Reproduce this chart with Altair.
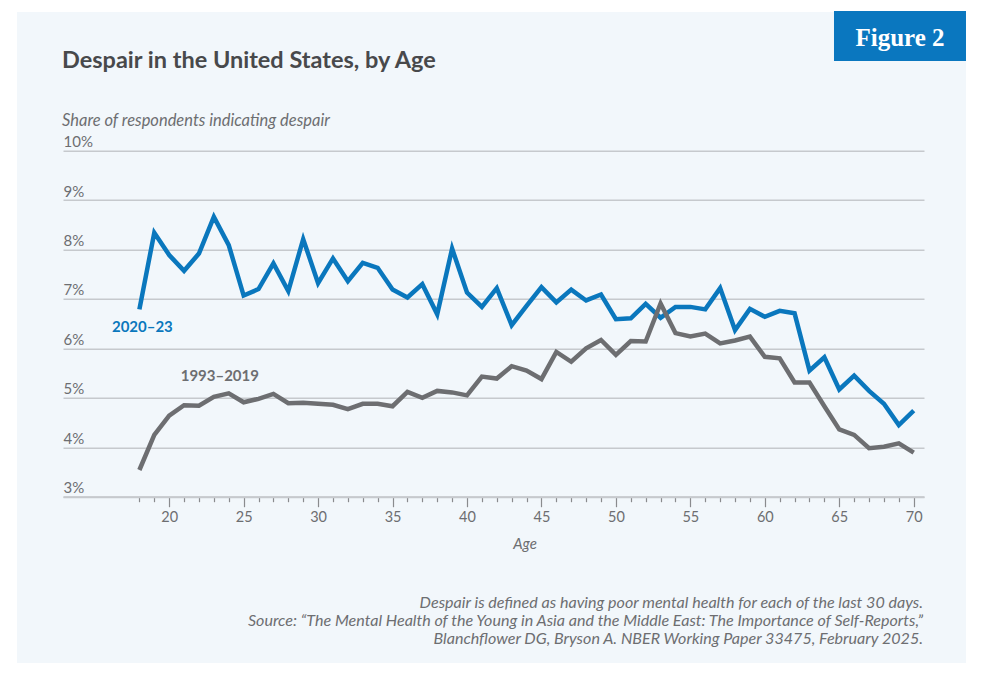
import altair as alt
import pandas as pd

ages = list(range(18, 71))
despair_2020_23 = [6.79, 8.34, 7.89, 7.57, 7.92, 8.66, 8.09, 7.07, 7.20, 7.72,
                   7.16, 8.21, 7.32, 7.82, 7.36, 7.73, 7.63, 7.19, 7.03, 7.30,
                   6.69, 8.02, 7.13, 6.84, 7.22, 6.47, 6.86, 7.24, 6.93, 7.19,
                   6.97, 7.09, 6.59, 6.61, 6.90, 6.62, 6.84, 6.84, 6.79, 7.22,
                   6.37, 6.80, 6.64, 6.76, 6.71, 5.55, 5.82, 5.17, 5.45, 5.14,
                   4.88, 4.45, 4.74]
despair_1993_2019 = [3.54, 4.25, 4.64, 4.85, 4.84, 5.02, 5.09, 4.91, 4.98, 5.08,
                     4.89, 4.90, 4.88, 4.86, 4.77, 4.88, 4.88, 4.83, 5.12, 5.00,
                     5.14, 5.11, 5.05, 5.43, 5.39, 5.64, 5.55, 5.38, 5.93, 5.73,
                     6.00, 6.17, 5.87, 6.15, 6.14, 6.91, 6.31, 6.24, 6.30, 6.10,
                     6.16, 6.24, 5.83, 5.80, 5.31, 5.31, 4.83, 4.36, 4.25, 3.98,
                     4.01, 4.08, 3.89]
age_ticks = list(range(18, 71))
pct_ticks = [3, 4, 5, 6, 7, 8, 9, 10]

series_labels = ["2020\u201323", "1993\u20132019"]
label_age = [18.2, 23.4]
label_value = [6.43, 5.45]

title_text = "Despair in the United States, by Age"
subtitle_text = "Share of respondents indicating despair"
badge_text = "Figure 2"
x_title = "Age"
note_lines = [
    "Despair is defined as having poor mental health for each of the last 30 days.",
    "Source: \u201cThe Mental Health of the Young in Asia and the Middle East: The Importance of Self-Reports,\u201d",
    "Blanchflower DG, Bryson A. NBER Working Paper 33475, February 2025.",
]

BLUE = "#0a77bd"
GRAY = "#6d6e71"
TEXT = "#6d6e71"
PANEL = "#f2f7fb"
FONT = "Lato"

blue_df = pd.DataFrame({"age": ages, "value": despair_2020_23})
gray_df = pd.DataFrame({"age": ages, "value": despair_1993_2019})
lab_df = pd.DataFrame({"label": series_labels, "age": label_age, "value": label_value,
                       "c": [BLUE, GRAY]})
one = pd.DataFrame({"k": [0]})

x_enc = alt.X(
    "age:Q",
    scale=alt.Scale(domain=[12.87, 70.69], nice=False, zero=False),
    axis=alt.Axis(
        values=age_ticks,
        title=None,
        grid=False,
        domain=True,
        domainColor="#c6c9cd",
        domainWidth=2,
        ticks=True,
        tickColor="#8a8b8e",
        tickWidth=1.2,
        tickSize={"condition": {"test": "datum.value % 5 === 0", "value": 10}, "value": 5},
        labelExpr="datum.value % 5 === 0 ? datum.label : ''",
        labelFont=FONT,
        labelFontSize=14.5,
        labelColor=TEXT,
        labelPadding=4,
    ),
)
y_enc = alt.Y(
    "value:Q",
    scale=alt.Scale(domain=[3, 10], nice=False, zero=False),
    axis=alt.Axis(
        values=pct_ticks,
        title=None,
        grid=True,
        gridColor="#c6c9cd",
        gridWidth=1.5,
        domain=False,
        ticks=False,
        labelExpr="datum.value + '%'",
        labelAlign="left",
        labelBaseline="alphabetic",
        labelOffset=-4,
        labelPadding=0,
        labelFont=FONT,
        labelFontSize=15,
        labelColor=TEXT,
    ),
)

strip_left = alt.Chart(one).mark_rect(color="white").encode(
    x=alt.value(-60), x2=alt.value(-46), y=alt.value(-150), y2=alt.value(700)
)
strip_top = alt.Chart(one).mark_rect(color="white").encode(
    x=alt.value(-60), x2=alt.value(910), y=alt.value(-150), y2=alt.value(-138.7)
)
badge = alt.Chart(one).mark_rect(color="#0a77bf").encode(
    x=alt.value(771), x2=alt.value(903), y=alt.value(-139.7), y2=alt.value(-89.7)
)
badge_t = alt.Chart(one).mark_text(
    font="Liberation Serif", fontWeight="bold", fontSize=25, color="white",
    align="center", baseline="alphabetic"
).encode(x=alt.value(837), y=alt.value(-105), text=alt.value(badge_text))
title_t = alt.Chart(one).mark_text(
    font=FONT, fontWeight="bold", fontSize=23.5, color="#48494b",
    align="left", baseline="alphabetic"
).encode(x=alt.value(-1), y=alt.value(-82.4), text=alt.value(title_text))
sub_t = alt.Chart(one).mark_text(
    font=FONT, fontStyle="italic", fontSize=16.5, color=TEXT,
    align="left", baseline="alphabetic"
).encode(x=alt.value(-1), y=alt.value(-24.7), text=alt.value(subtitle_text))
age_t = alt.Chart(one).mark_text(
    font=FONT, fontStyle="italic", fontSize=15, color=TEXT,
    align="center", baseline="alphabetic"
).encode(x=alt.value(462), y=alt.value(398), text=alt.value(x_title))
note_t = alt.Chart(one).mark_text(
    font=FONT, fontStyle="italic", fontSize=16.1, color=TEXT,
    align="right", baseline="alphabetic", lineHeight=18
).encode(x=alt.value(860), y=alt.value(457.6), text=alt.value(note_lines))

blue_line = alt.Chart(blue_df).mark_line(color=BLUE, strokeWidth=4.5).encode(x=x_enc, y=y_enc)
gray_line = alt.Chart(gray_df).mark_line(color=GRAY, strokeWidth=4.5).encode(x=x_enc, y=y_enc)
labels = alt.Chart(lab_df).mark_text(
    font=FONT, fontWeight="bold", fontSize=15, align="center", baseline="middle"
).encode(x=x_enc, y=y_enc, text="label:N", color=alt.Color("c:N", scale=None))

chart = alt.layer(
    blue_line, gray_line, labels, strip_left, strip_top, badge, badge_t,
    title_t, sub_t, age_t, note_t
).properties(
    width=861,
    height=346,
    padding={"left": 55, "top": 142.7, "right": 42, "bottom": 166},
    autosize=alt.AutoSizeParams(type="none"),
    background=PANEL,
).configure_view(strokeWidth=0)

chart.save("out.html", embed_options={"renderer": "svg", "actions": False})
